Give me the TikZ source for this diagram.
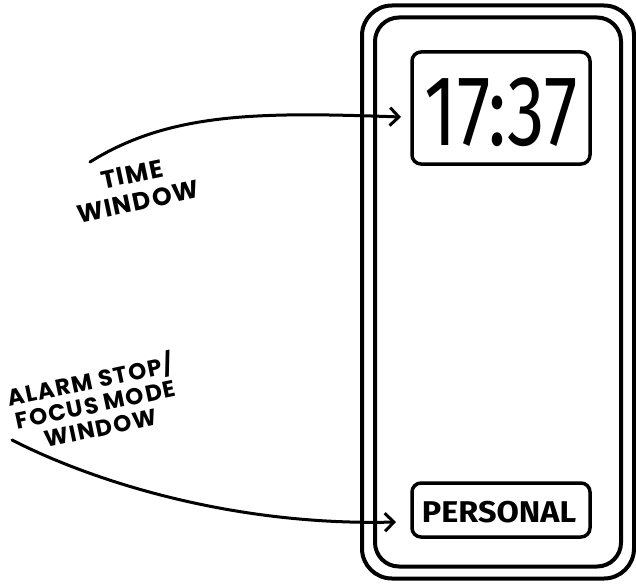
\documentclass[tikz,border=0pt]{standalone}
\usepackage{fontspec}
\setmainfont{Fira Sans}
\newfontfamily\handfont[LetterSpace=6]{Poppins}
\usetikzlibrary{arrows.meta}
\begin{document}
\begin{tikzpicture}[x=1pt,y=-1pt,
  frame/.style={draw=black,line width=4pt,rounded corners=30pt},
  winbox/.style={draw=black,line width=3.5pt,rounded corners=9pt,inner sep=0pt},
  lbl/.style={font=\handfont\bfseries\fontsize{25}{28}\selectfont,align=center,rotate=12,inner sep=0pt},
  conn/.style={draw=black,line width=3pt,line cap=round,-{Straight Barb[length=9pt,width=18pt,line width=3pt]}}]
\useasboundingbox (0,0) rectangle (636,583);
\node[frame,minimum width=272pt,minimum height=573pt] (outer) at (498,292) {};
\node[frame,rounded corners=24pt,minimum width=246pt,minimum height=549pt] (inner) at (498,292) {};
\node[winbox,minimum width=178pt,minimum height=112pt] (timebox) at (501,108) {};
\node[font=\fontsize{100}{100}\selectfont\fontseries{l}\selectfont,xscale=0.75] (clock) at (501,112) {17:37};
\node[winbox,minimum width=178pt,minimum height=54pt] (perbox) at (501,510) {};
\node[font=\bfseries\fontsize{30}{30}\selectfont,xscale=1.08] (personal) at (499,512) {PERSONAL};
\node[lbl] (tw) at (135,188) {TIME\\WINDOW};
\node[lbl,font=\handfont\bfseries\fontsize{23}{24}\selectfont] (af) at (95,402) {ALARM STOP/\\FOCUS MODE\\WINDOW};
\coordinate (s1) at (90,162);
\coordinate (e1) at (401,117);
\coordinate (s2) at (12,440);
\coordinate (e2) at (396,522);
\draw[conn] (s1) .. controls (170,112) and (260,112) .. (e1);
\draw[conn] (s2) .. controls (90,480) and (230,526) .. (e2);
\end{tikzpicture}
\end{document}
